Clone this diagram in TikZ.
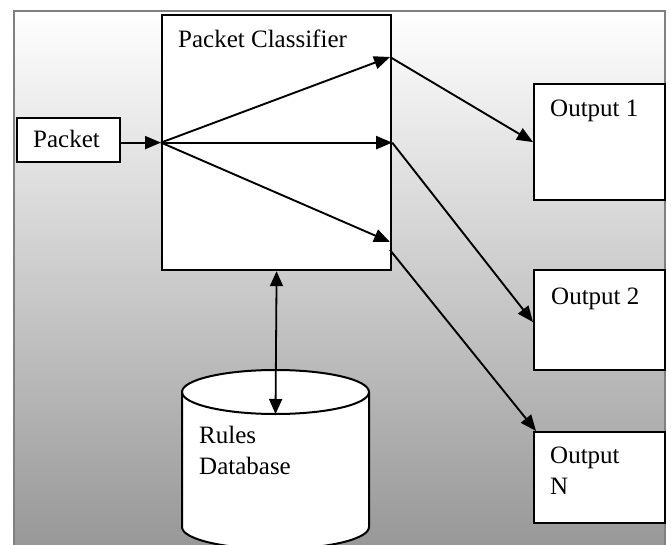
\documentclass[tikz,border=0pt]{standalone}
\usepackage{fontspec}
\setmainfont{Liberation Serif}
\usetikzlibrary{arrows.meta}
\definecolor{framegray}{RGB}{128,128,128}
\definecolor{shadebottom}{RGB}{152,152,152}
\begin{document}
\begin{tikzpicture}[x=1pt,y=-1pt,
  box/.style={draw=black,line width=2.2pt,fill=white,inner sep=0pt,anchor=north west},
  lbl/.style={anchor=base west,inner sep=0pt,font=\fontsize{25}{30}\selectfont},
  arr/.style={line width=1.9pt,-{Triangle[length=16pt,width=13pt]}},
  dbl/.style={line width=1.8pt,{Triangle[length=15pt,width=13pt]}-{Triangle[length=15pt,width=13pt]}}]
\useasboundingbox (0,0) rectangle (671,545);
% background
\fill[white] (0,0) rectangle (671,545);
\shade[top color=white,bottom color=shadebottom] (14,11) rectangle (665,545);
\draw[framegray,line width=2.5pt] (14,545) -- (14,11) -- (665,11) -- (665,545);
% boxes
\node[box,minimum width=103pt,minimum height=44pt] (pk) at (16,117) {};
\node[box,minimum width=229pt,minimum height=255pt] (cls) at (161,14) {};
\node[box,minimum width=131pt,minimum height=116pt] (o1) at (533,83) {};
\node[box,minimum width=131pt,minimum height=100pt] (o2) at (533,269) {};
\node[box,minimum width=131pt,minimum height=91pt] (o3) at (533,431) {};
% database cylinder
\filldraw[fill=white,draw=black,line width=2pt] (182,392) -- (182,527)
  arc[start angle=180,end angle=0,x radius=93.5,y radius=22] -- (369,392)
  arc[start angle=0,end angle=-180,x radius=93.5,y radius=22] -- cycle;
\draw[line width=2pt] (182,392) arc[start angle=180,end angle=0,x radius=93.5,y radius=22];
\coordinate (db) at (275.5,414);
% texts
\node[lbl] (tcls) at (178,48) {Packet Classifier};
\node[lbl] (tpk) at (33,148) {Packet};
\node[lbl] (to1) at (550,117) {Output 1};
\node[lbl] (to2) at (551,304) {Output 2};
\node[lbl] (to3a) at (550,463) {Output};
\node[lbl] (to3b) at (550,494) {N};
\node[lbl] (tdba) at (199,443) {Rules};
\node[lbl] (tdbb) at (199,474) {Database};
% points on classifier's right edge
\coordinate (e1) at (390,57);
\coordinate (e3in) at (390,242);
\coordinate (e3out) at (390,250);
% connectors
\draw[arr] (pk.east |- cls.west) -- (cls.west);
\draw[arr] (cls.west) -- (e1);
\draw[arr] (cls.west) -- (cls.east);
\draw[arr] (cls.west) -- (e3in);
\draw[arr] (e1) -- (o1.west);
\draw[arr] (cls.east) -- ([yshift=-2pt]o2.west);
\draw[arr] (e3out) -- ([xshift=3pt]o3.north west);
\draw[dbl] (cls.south) -- (db);
\end{tikzpicture}
\end{document}
